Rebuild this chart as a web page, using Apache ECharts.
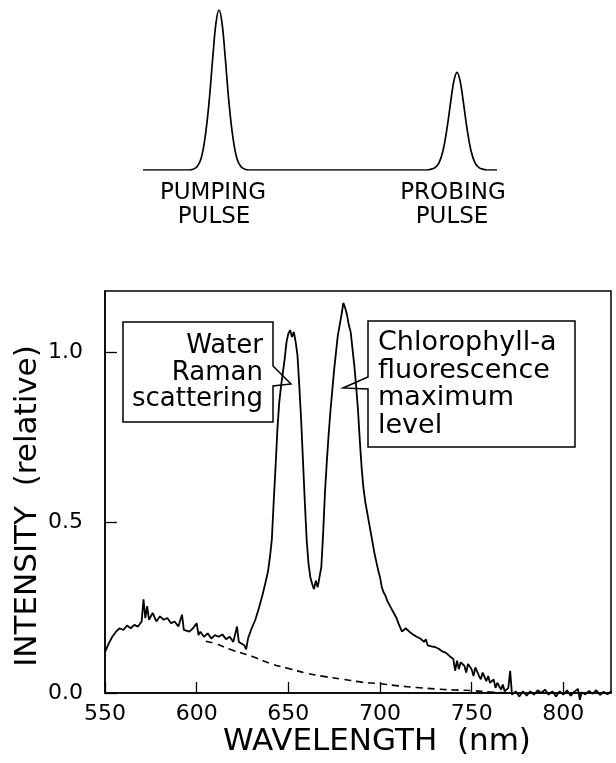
<!DOCTYPE html>
<html>
<head>
<meta charset="utf-8">
<script src="https://cdn.jsdelivr.net/npm/echarts@6/dist/echarts.min.js"></script>
<style>
  html, body { margin: 0; padding: 0; background: #fff; }
  #main { width: 616px; height: 763px; }
</style>
</head>
<body>
<div id="main"></div>
<script>
// spectrum (nm, relative intensity)
const wavelength = [
  550, 552, 554, 556, 558, 560, 562, 564, 566, 568, 570, 571, 572, 573, 574, 576, 578, 580,
  582, 584, 586, 588, 590, 592, 593, 594, 596, 598, 600, 601, 602, 604, 606, 608, 610, 612,
  614, 616, 618, 620, 622, 623, 624, 626, 627, 628, 630, 632, 634, 636, 638, 639, 640, 641,
  642, 643, 644, 645, 646, 647, 648, 649, 650, 651, 652, 653, 654, 655, 656, 657, 658, 659,
  660, 661, 662, 663, 664, 665, 666, 667, 668, 669, 670, 671, 672, 673, 674, 675, 676, 677,
  678, 679, 680, 681, 682, 683, 684, 685, 686, 687, 688, 689, 690, 691, 692, 693, 694, 695,
  696, 697, 698, 699, 700, 701, 702, 703, 704, 705, 706, 707, 708, 709, 710, 711, 712, 713,
  714, 716, 718, 720, 722, 724, 725, 726, 728, 730, 732, 734, 736, 738, 740, 741, 742, 743,
  744, 746, 747, 748, 750, 751, 752, 754, 755, 756, 758, 759, 760, 762, 763, 764, 766, 767,
  768, 770, 771, 772, 774, 776, 778, 780, 782, 784, 786, 788, 790, 792, 794, 796, 798, 800,
  802, 804, 806, 808, 809, 810, 812, 814, 816, 818, 820, 822, 824, 826
];
const intensity = [
  0.12, 0.145, 0.165, 0.18, 0.19, 0.185, 0.198, 0.19, 0.2, 0.195, 0.21, 0.275, 0.22, 0.255, 0.215, 0.235, 0.21, 0.225,
  0.215, 0.22, 0.205, 0.21, 0.195, 0.23, 0.185, 0.19, 0.18, 0.19, 0.205, 0.17, 0.18, 0.165, 0.175, 0.16, 0.17, 0.165,
  0.172, 0.158, 0.165, 0.15, 0.195, 0.15, 0.155, 0.14, 0.128, 0.16, 0.19, 0.215, 0.25, 0.29, 0.335, 0.36, 0.40, 0.45,
  0.56, 0.66, 0.77, 0.85, 0.90, 0.94, 0.98, 1.03, 1.055, 1.065, 1.045, 1.06, 1.03, 0.99, 0.90, 0.80, 0.68, 0.56,
  0.45, 0.38, 0.34, 0.32, 0.305, 0.33, 0.31, 0.34, 0.37, 0.47, 0.59, 0.68, 0.76, 0.83, 0.89, 0.95, 1.00, 1.05,
  1.08, 1.11, 1.145, 1.13, 1.11, 1.08, 1.06, 1.01, 0.96, 0.90, 0.83, 0.74, 0.66, 0.60, 0.56, 0.53, 0.50, 0.47,
  0.44, 0.41, 0.385, 0.36, 0.34, 0.31, 0.295, 0.285, 0.27, 0.26, 0.25, 0.24, 0.235, 0.22, 0.205, 0.21, 0.18, 0.175,
  0.19, 0.18, 0.172, 0.165, 0.16, 0.15, 0.158, 0.14, 0.137, 0.135, 0.13, 0.122, 0.118, 0.108, 0.1, 0.065, 0.095, 0.07,
  0.09, 0.08, 0.06, 0.085, 0.07, 0.05, 0.075, 0.05, 0.04, 0.06, 0.035, 0.05, 0.03, 0.04, 0.015, 0.03, 0.01, 0.025,
  0.005, 0.015, 0.065, -0.005, 0.005, -0.01, 0.005, -0.008, 0.005, -0.005, 0.008, 0.0, 0.01, -0.005, 0.005, -0.01, 0.005, -0.005,
  0.008, -0.008, 0.004, 0.012, -0.02, 0.002, -0.004, 0.006, -0.002, 0.008, -0.006, 0.004, -0.004, 0.005
];

// dashed background curve
const baseX = [605, 610, 620, 630, 640, 650, 660, 670, 680, 690, 700, 710, 720, 730, 740, 750, 760, 770];
const baseY = [0.152, 0.145, 0.125, 0.108, 0.087, 0.072, 0.058, 0.048, 0.04, 0.032, 0.027, 0.021, 0.016, 0.012, 0.009, 0.007, 0.003, 0.0];

const xTicks = [550, 600, 650, 700, 750, 800];
const yTicks = [0, 0.5, 1.0];

// pulse diagram on top (time in arbitrary units, amplitude relative)
const pulseT = [
  0, 46, 50, 54, 58, 62, 66, 70, 73, 76, 79, 82, 86, 90, 94, 98, 102, 106,
  284, 288, 292, 296, 300, 304, 308, 311, 314, 317, 320, 324, 328, 332, 336, 340, 344, 354
];
const pulseAmp = [
  0, 0, 0.005, 0.02, 0.07, 0.2, 0.42, 0.72, 0.92, 1.0, 0.92, 0.72, 0.42, 0.2, 0.07, 0.02, 0.005, 0,
  0, 0.005, 0.015, 0.045, 0.12, 0.26, 0.44, 0.56, 0.61, 0.56, 0.44, 0.26, 0.12, 0.045, 0.015, 0.005, 0, 0
];

const zip = (a, b) => a.map((v, i) => [v, b[i]]);
const FONT = 'DejaVu Sans';

const chart = echarts.init(document.getElementById('main'));

chart.setOption({
  animation: false,
  grid: [
    { left: 105, right: 5, top: 291, bottom: 70, show: true, borderColor: '#000', borderWidth: 1.5 },
    { left: 143, width: 354, top: 10, height: 160 }
  ],
  xAxis: [
    {
      type: 'value', min: 550, max: 826,
      axisLine: { lineStyle: { color: '#000', width: 1.5 } },
      axisTick: { inside: true, length: 11, customValues: xTicks, lineStyle: { color: '#000', width: 1.3 } },
      axisLabel: { customValues: xTicks, margin: 10, color: '#000', fontFamily: FONT, fontSize: 22 },
      splitLine: { show: false }
    },
    { type: 'value', gridIndex: 1, min: 0, max: 354, show: false }
  ],
  yAxis: [
    {
      type: 'value', min: 0, max: 1.18,
      axisLine: { show: true, lineStyle: { color: '#000', width: 1.5 } },
      axisTick: { show: true, inside: true, length: 12, customValues: yTicks, lineStyle: { color: '#000', width: 1.3 } },
      axisLabel: { customValues: yTicks, margin: 22, color: '#000', fontFamily: FONT, fontSize: 22,
        formatter: v => v.toFixed(1) },
      splitLine: { show: false }
    },
    { type: 'value', gridIndex: 1, min: 0, max: 1, show: false }
  ],
  series: [
    {
      type: 'line', data: zip(baseX, baseY), symbol: 'none', smooth: true,
      lineStyle: { color: '#000', width: 1.6, type: [7, 5] }
    },
    {
      type: 'line', data: zip(wavelength, intensity), symbol: 'none', clip: false,
      lineStyle: { color: '#000', width: 1.8 }
    },
    {
      type: 'line', xAxisIndex: 1, yAxisIndex: 1, data: zip(pulseT, pulseAmp),
      symbol: 'none', smooth: 0.4, lineStyle: { color: '#000', width: 1.7 }
    }
  ],
  graphic: [
    // axis titles
    { type: 'text', x: 377, y: 742, style: { text: 'WAVELENGTH  (nm)', font: '31px ' + FONT,
      fill: '#000', align: 'center', verticalAlign: 'middle' } },
    { type: 'text', x: 28, y: 506, rotation: Math.PI / 2, style: { text: 'INTENSITY  (relative)',
      font: '31px ' + FONT, fill: '#000', align: 'center', verticalAlign: 'middle' } },
    // pulse labels
    { type: 'text', x: 213, y: 193, style: { text: 'PUMPING', font: '23px ' + FONT, fill: '#000', align: 'center', verticalAlign: 'middle' } },
    { type: 'text', x: 214, y: 217, style: { text: 'PULSE', font: '23px ' + FONT, fill: '#000', align: 'center', verticalAlign: 'middle' } },
    { type: 'text', x: 453, y: 193, style: { text: 'PROBING', font: '23px ' + FONT, fill: '#000', align: 'center', verticalAlign: 'middle' } },
    { type: 'text', x: 452, y: 217, style: { text: 'PULSE', font: '23px ' + FONT, fill: '#000', align: 'center', verticalAlign: 'middle' } },
    // callout boxes
    { type: 'polygon', shape: { points: [[123, 322], [273, 322], [273, 366], [291, 384], [273, 386], [273, 422], [123, 422]] },
      style: { fill: 'none', stroke: '#000', lineWidth: 1.5 }, z: 10 },
    { type: 'text', x: 263, y: 333, z: 11, style: { text: 'Water\nRaman\nscattering', font: '26px ' + FONT,
      lineHeight: 26.5, fill: '#000', align: 'right', verticalAlign: 'top' } },
    { type: 'polygon', shape: { points: [[368, 321], [575, 321], [575, 447], [368, 447], [368, 389], [343, 388], [368, 377]] },
      style: { fill: 'none', stroke: '#000', lineWidth: 1.5 }, z: 10 },
    { type: 'text', x: 378, y: 329, z: 11, style: { text: 'Chlorophyll-a\nfluorescence\nmaximum\nlevel', font: '27px ' + FONT,
      lineHeight: 27.7, fill: '#000', align: 'left', verticalAlign: 'top' } }
  ]
});
</script>
</body>
</html>
